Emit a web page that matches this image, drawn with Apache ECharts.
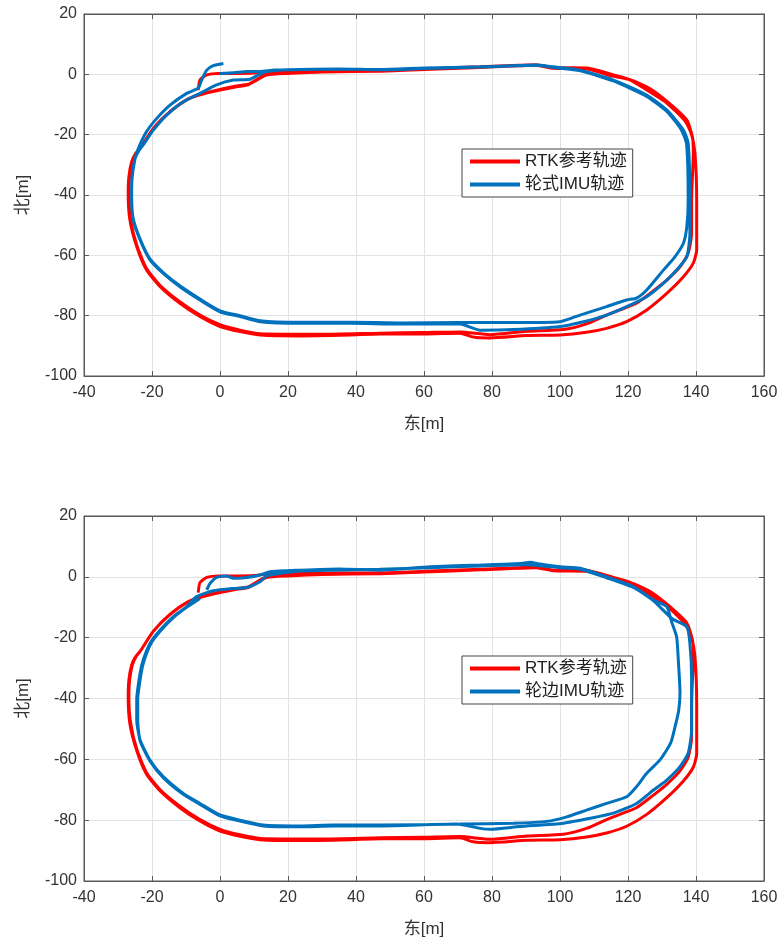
<!DOCTYPE html>
<html>
<head>
<meta charset="utf-8">
<title>RTK / IMU 轨迹</title>
<script src="https://cdn.jsdelivr.net/npm/echarts@6/dist/echarts.min.js"></script>
<style>
  html, body { margin: 0; padding: 0; background: #fff; }
  #chart { width: 781px; height: 943px; }
</style>
</head>
<body>
<div id="chart"></div>
<script>
// 刻度
var eastTicks = [-40, -20, 0, 20, 40, 60, 80, 100, 120, 140, 160];
var northTicks = [-100, -80, -60, -40, -20, 0, 20];

// RTK 参考轨迹 (两圈)  [东, 北]
var rtkPath = [
  [-6.4,-5.2],[-5.9,-1.9],[-3.9,-0.2],[-0.5,0.3],[5,0.3],[9.8,0.4],[13.7,0.9],[20,1.0],[35,1.3],[47,1.3],
  [60,1.8],[76.5,2.5],[88,3.0],[93,3.2],[98,2.2],[108,2.1],[115.7,-0.2],[120.6,-1.8],[125.5,-5.2],[131.4,-9.5],
  [136.8,-15.5],[138.7,-20],[139.7,-26.2],[140.2,-41.7],[140.2,-58.2],[139.2,-62.6],[136.3,-67.1],[131.4,-72.6],
  [125.5,-78.1],[119.6,-82],[113.7,-84.2],[107.8,-85.5],[100,-86.4],[90.2,-86.6],[79.4,-87.4],[74.5,-87.1],
  [70.6,-85.8],[60,-86.1],[47,-86.1],[38.2,-86.4],[23.5,-86.7],[11.8,-86.4],[5.9,-85.3],[0,-83.6],[-5.9,-80.3],
  [-11.8,-75.9],[-17.6,-70.4],[-21.6,-64.9],[-24.5,-57.1],[-26.5,-48.3],[-27,-39.4],[-26.8,-34],[-26,-29],
  [-24.8,-26.2],[-23.5,-24.5],
  [-19.6,-17.9],[-14.7,-12.4],[-9.8,-8.5],[-5.9,-6.8],[0,-5.2],[4.9,-4.1],[8.3,-3.5],[10.8,-1.9],[13.7,-0.2],
  [19.6,0.3],[30,0.8],[47,1.0],[60,1.6],[76.5,2.3],[93,3.0],[98,2.0],[108,1.8],[115,-0.5],[120.6,-1.8],
  [126.5,-4.8],[132,-9.5],[137.3,-15.2],[139,-21],[139.2,-26],[138.7,-41.7],[138.7,-52.7],[137.7,-59.3],
  [135.3,-63.8],[131.4,-68.2],[126.5,-72.6],[122.5,-75.9],[117.6,-78.1],[113.7,-79.8],[107.8,-82.7],[101,-84.6],
  [90.2,-85.2],[79.4,-86.3],[70.6,-85.4],[60,-85.6],[47,-85.8],[30,-86.2],[11.8,-86],[5.9,-84.8],[0,-83],
  [-5.9,-79.8],[-11.8,-75.4],[-17.6,-70],[-21.6,-64.4],[-24.5,-56.6],[-26.3,-48],[-26.8,-39.4],[-26.6,-34],
  [-25.8,-29],[-24.6,-26],[-23.3,-24.2],[-19.4,-17.6],[-14.5,-12.1],[-9.6,-8.3],[-5.7,-6.6],[0,-5.0],[4.9,-3.9],
  [8.3,-3.3],[10.8,-1.7],[13.7,0],[19.6,0.5],[25,0.8]
];

// 轮式IMU轨迹 (上图)
var wheelPath = [
  [0,0.3],[4,0.5],[7.9,0.9],[11.8,0.9],[16,1.4],[25,1.6],[35,1.7],[47,1.6],[60,2.1],[76.5,2.5],[93,3.1],
  [98,2.5],[105.9,1.4],[115.7,-1.9],[125.5,-6.9],[131.4,-11.8],[136.3,-18.5],[137.7,-22.9],[138.2,-41.7],
  [138.2,-52.7],[137.3,-60.5],[134.3,-64.9],[130.4,-69.3],[125.5,-73.7],[119.6,-77],[113.7,-79.8],[106.9,-82],
  [100,-83.6],[86.3,-84.6],[76.5,-84.8],[70.6,-82.8],[52.9,-82.8],[38.2,-82.5],[23.5,-82.5],[11.8,-82],
  [5.9,-80.3],[0,-78.7],[-5.9,-74.8],[-11.8,-70.4],[-16.7,-66],[-20.6,-61.5],[-23.5,-54.9],[-25.5,-48.3],
  [-26,-39.4],[-25.8,-33],[-25,-28],[-23.8,-25.2],[-22.6,-23.4],[-19.6,-18.5],[-15.7,-13.5],[-10.8,-9.1],
  [-5.9,-6.3],[-1,-3.5],
  [3.9,-1.9],[8.8,-1.6],[11.3,-0.2],[13.7,0.9],[20,1.5],[35,1.8],[47,1.5],[60,1.9],[76.5,2.4],[93,3.0],
  [98,2.3],[106,1.2],[115.7,-2.2],[125.5,-7.3],[131.4,-12.3],[135.5,-18],[137.2,-22.9],[137.7,-41.7],
  [137.3,-50.5],[136.3,-56],[133.8,-60.5],[130.4,-64.9],[125.5,-71.5],[122.5,-74.2],[119.6,-74.8],[113.7,-77],
  [105.9,-79.8],[100,-82],[86,-82.3],[70,-82.3],[52.9,-82.4],[38.2,-82.2],[23.5,-82.2],[11.8,-81.7],[5.9,-80],
  [0,-78.4],[-5.9,-74.5],[-11.8,-70.1],[-16.7,-65.7],[-20.6,-61.2],[-23.5,-54.6],[-25.5,-48],[-26,-42.2],
  [-25.9,-35],[-25,-28],[-24,-24.5],[-21.6,-19],[-18.6,-14.6],[-14.7,-10.2],[-9.8,-6.3],[-6.4,-4.6],[-5.4,-1.9],
  [-3.9,1.4],[-2,2.9],[1,3.6]
];

// 轮边IMU轨迹 (下图)
var hubPath = [
  [-3.9,-4.3],[-2.9,-2.1],[-1,-0.2],[2,0.3],[3.9,-0.5],[7.9,-0.2],[11.8,0.6],[14.7,1.7],[23.5,2.2],[35,2.6],
  [47,2.2],[61.8,3.3],[76.5,3.9],[88.2,4.4],[91.2,4.8],[94.1,4.2],[100,3.3],[105.9,2.8],[113.7,0],[121.6,-3.2],
  [127.5,-7.6],[131.4,-9.8],[132.8,-14.7],[134.3,-19.7],[134.8,-27.4],[135.3,-38.3],[134.9,-44],[133.9,-49],
  [132.6,-54.5],[129.4,-60.2],[125.5,-64.6],[122.5,-69],[119.6,-72.3],[113.7,-74.5],[107.8,-76.7],[102,-78.9],
  [96.1,-80.4],[86.3,-81],[70.6,-81.3],[47,-81.6],[33.3,-81.6],[23.5,-81.9],[12.7,-81.6],[5.9,-80],[0,-78.3],
  [-5.9,-74.5],[-10.8,-71.2],[-16.7,-65.7],[-20.6,-60.2],[-23.5,-53.6],[-24.5,-47.1],[-24.5,-40.5],[-23.5,-31.7],
  [-22.6,-27.4],[-20.6,-21.9],[-17.6,-17.5],[-13.7,-13.1],[-9.8,-9.8],[-6.9,-6.5],[-2,-4.6],[3.9,-3.8],
  [7.9,-3.5],[11.8,-1.6],[13.7,0.3],[23.5,1.9],[47,2.5],[61.8,3.0],[76.5,3.6],[90,4.0],[100,3.0],[105.9,2.5],
  [113.7,-0.3],[121.6,-3.5],[127.5,-7.9],[133,-13.8],[137.3,-16.4],[138.2,-21.9],[138.7,-32.8],[138.7,-50.4],
  [137.7,-58],[135.3,-62.4],[131.4,-66.8],[127.5,-70.1],[122.5,-74.5],[115.7,-77.7],[108.8,-79.4],[101,-81],
  [88.2,-82.1],[79.4,-83],[76.5,-82.7],[69.6,-81.3],[47,-81.9],[33.3,-81.9],[23.5,-82.2],[12.7,-81.9],
  [5.9,-80.3],[0,-78.6],[-5.9,-74.8],[-10.8,-71.5],[-16.7,-66],[-20.6,-60.5],[-23.5,-53.9],[-24.2,-47.1],
  [-24.2,-40.5],[-23.2,-31.7],[-22.3,-27.4],[-20.3,-21.9],[-17.3,-17.5],[-13.4,-13.1],[-9.5,-9.8],[-5.9,-7.1]
];

var FONT = "'Liberation Sans', 'Noto Sans CJK SC', sans-serif";
var axisColor = "#595959";
var RED = "#ff0000";
var BLUE = "#0072bd";

function xAx(grid, pos, main) {
  return {
    type: "value", gridIndex: grid, position: pos,
    min: eastTicks[0], max: eastTicks[eastTicks.length - 1], interval: 20,
    name: main ? "东[m]" : "", nameLocation: "middle", nameGap: 40,
    nameTextStyle: { fontFamily: FONT, fontSize: 17, color: "#333" },
    axisLine: { show: true, onZero: false, lineStyle: { color: axisColor, width: 1 } },
    axisTick: { show: true, inside: true, length: 5, lineStyle: { color: axisColor } },
    axisLabel: { show: main, margin: 9, fontFamily: FONT, fontSize: 16, color: "#333" },
    splitLine: { show: main, lineStyle: { color: "#e3e3e3", width: 1 } }
  };
}
function yAx(grid, pos, main) {
  return {
    type: "value", gridIndex: grid, position: pos,
    min: northTicks[0], max: northTicks[northTicks.length - 1], interval: 20,
    name: main ? "北[m]" : "", nameLocation: "middle", nameGap: 52,
    nameTextStyle: { fontFamily: FONT, fontSize: 17, color: "#333" },
    axisLine: { show: true, onZero: false, lineStyle: { color: axisColor, width: 1 } },
    axisTick: { show: true, inside: true, length: 5, lineStyle: { color: axisColor } },
    axisLabel: { show: main, margin: 7, fontFamily: FONT, fontSize: 16, color: "#333" },
    splitLine: { show: main, lineStyle: { color: "#e3e3e3", width: 1 } }
  };
}
function track(name, data, color, xi, yi) {
  return {
    name: name, type: "line", data: data,
    xAxisIndex: xi, yAxisIndex: yi,
    showSymbol: false, symbol: "none", smooth: 0.2,
    lineStyle: { color: color, width: 3 },
    itemStyle: { color: color },
    z: color === BLUE ? 3 : 2
  };
}
function legendBox(top, names) {
  return {
    orient: "vertical", left: 462, top: top,
    data: names, icon: "rect", itemWidth: 50, itemHeight: 4, itemGap: 6,
    padding: [4, 6, 4, 8], borderColor: "#444", borderWidth: 1, backgroundColor: "#fff",
    textStyle: { fontFamily: FONT, fontSize: 17, color: "#222" }
  };
}

var option = {
  animation: false,
  backgroundColor: "#fff",
  grid: [
    { left: 84, width: 680, top: 14, height: 362, show: true, borderColor: axisColor, borderWidth: 1 },
    { left: 84, width: 680, top: 516, height: 365, show: true, borderColor: axisColor, borderWidth: 1 }
  ],
  xAxis: [xAx(0, "bottom", true), xAx(0, "top", false), xAx(1, "bottom", true), xAx(1, "top", false)],
  yAxis: [yAx(0, "left", true), yAx(0, "right", false), yAx(1, "left", true), yAx(1, "right", false)],
  legend: [
    legendBox(149, ["RTK参考轨迹", "轮式IMU轨迹"]),
    legendBox(656, ["RTK参考轨迹", "轮边IMU轨迹"])
  ],
  series: [
    track("RTK参考轨迹", rtkPath, RED, 0, 0),
    track("轮式IMU轨迹", wheelPath, BLUE, 0, 0),
    track("RTK参考轨迹", rtkPath, RED, 2, 2),
    track("轮边IMU轨迹", hubPath, BLUE, 2, 2)
  ]
};

var chart = echarts.init(document.getElementById("chart"));
chart.setOption(option);
</script>
</body>
</html>
